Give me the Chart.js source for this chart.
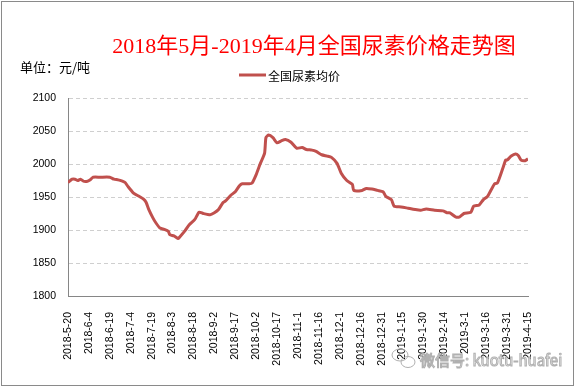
<!DOCTYPE html>
<html>
<head>
<meta charset="utf-8">
<script src="https://cdn.jsdelivr.net/npm/chart.js@4/dist/chart.umd.min.js"></script>
<style>
  html, body { margin: 0; padding: 0; background: #fff; }
  #wrap { width: 576px; height: 387px; }
</style>
</head>
<body>
<div id="wrap"><canvas id="myChart" width="576" height="387"></canvas></div>
<script>
// days counted from 2018-5-20
const days = [0, 3, 5, 7, 9, 11, 14, 16, 18, 23, 30, 33, 36, 39, 41, 43, 47, 51, 54, 56, 58, 61, 63, 66, 69, 72, 73, 76, 79, 80,
    84, 87, 91, 94, 97, 102, 105, 108, 111, 113, 117, 120, 123, 125, 130, 132, 135, 138, 141, 142, 144, 147, 150, 153, 156,
    160, 164, 168, 171, 175, 178, 182, 186, 189, 193, 196, 200, 204, 205, 211, 214, 218, 222, 226, 228, 232, 234, 239, 244,
    249, 253, 257, 263, 269, 272, 274, 278, 281, 284, 289, 291, 295, 298, 301, 306, 308, 312, 314, 315, 318, 321, 323, 325, 328, 330];
const prices = [1972, 1977, 1977, 1975, 1977, 1974, 1974, 1976, 1980, 1980, 1980, 1977, 1976, 1974, 1972, 1966, 1956, 1951, 1947, 1942, 1931, 1918, 1911, 1903, 1901, 1898, 1893, 1891, 1887, 1889,
    1899, 1908, 1916, 1927, 1925, 1923, 1926, 1931, 1941, 1944, 1953, 1958, 1967, 1970, 1970, 1971, 1984, 2001, 2016, 2040, 2044, 2040, 2032, 2035, 2037,
    2033, 2024, 2025, 2022, 2021, 2019, 2014, 2012, 2010, 2001, 1986, 1975, 1969, 1960, 1960, 1963, 1962, 1960, 1958, 1951, 1946, 1936, 1935, 1933,
    1931, 1930, 1932, 1930, 1929, 1926, 1926, 1920, 1920, 1925, 1927, 1936, 1938, 1946, 1951, 1970, 1971, 1994, 2006, 2006, 2012, 2015, 2013, 2006, 2005, 2008];
const tickLabels = ["2018-5-20", "2018-6-4", "2018-6-19", "2018-7-4", "2018-7-19", "2018-8-3", "2018-8-18", "2018-9-2",
    "2018-9-17", "2018-10-2", "2018-10-17", "2018-11-1", "2018-11-16", "2018-12-1", "2018-12-16", "2018-12-31",
    "2019-1-15", "2019-1-30", "2019-2-14", "2019-3-1", "2019-3-16", "2019-3-31", "2019-4-15"];
const seriesName = "全国尿素均价";
const titleText = "2018年5月-2019年4月全国尿素价格走势图";
const unitText = "单位：元/吨";

const lineColor = "#C0504D";

// title, unit, legend, border and watermark drawn by hand
const decor = {
    id: "decor",
    afterDraw(chart) {
        const ctx = chart.ctx;
        ctx.save();
        ctx.strokeStyle = "#8a8a8a";
        ctx.lineWidth = 1;
        ctx.strokeRect(1.5, 1.5, 572, 384);

        ctx.fillStyle = "#FF0000";
        ctx.font = "22px 'Liberation Serif', 'Noto Sans CJK SC'";
        ctx.textAlign = "center";
        ctx.textBaseline = "middle";
        ctx.fillText(titleText, 314, 47);

        ctx.fillStyle = "#000";
        ctx.font = "13px 'Noto Sans CJK SC'";
        ctx.textAlign = "left";
        ctx.fillText(unitText, 20, 67);

        ctx.strokeStyle = lineColor;
        ctx.lineWidth = 3;
        ctx.beginPath();
        ctx.moveTo(239, 75);
        ctx.lineTo(266, 75);
        ctx.stroke();
        ctx.font = "12px 'Noto Sans CJK SC'";
        ctx.fillText(seriesName, 268, 76);

        // watermark
        ctx.strokeStyle = "#b0b0b0";
        ctx.lineWidth = 1;
        ctx.beginPath();
        ctx.ellipse(400, 355, 8, 6, 0, 0, Math.PI * 2);
        ctx.stroke();
        ctx.beginPath();
        ctx.ellipse(408, 362, 7, 5.5, 0, 0, Math.PI * 2);
        ctx.stroke();
        ctx.font = "15px 'Noto Sans CJK SC'";
        ctx.fillStyle = "rgba(255,255,255,0.85)";
        ctx.fillText("微信号: kuotu-huafei", 420, 360);
        ctx.strokeText("微信号: kuotu-huafei", 420, 360);
        ctx.restore();
    }
};

new Chart("myChart", {
    type: "line",
    data: {
        datasets: [
            {
                label: seriesName,
                data: days.map((d, i) => ({ x: d, y: prices[i] })),
                borderColor: lineColor,
                borderWidth: 3,
                pointRadius: 0,
                fill: false,
                tension: 0.2,
            },
        ],
    },
    options: {
        responsive: false,
        animation: false,
        layout: { padding: { top: 98, right: 48, bottom: 0, left: 0 } },
        plugins: {
            legend: { display: false },
            title: { display: false },
            tooltip: { enabled: false },
        },
        scales: {
            x: {
                type: "linear",
                min: 0,
                max: 330,
                afterFit(scale) { scale.height = 91; },
                afterBuildTicks(scale) {
                    scale.ticks = tickLabels.map((_, i) => ({ value: i * 15 }));
                },
                grid: { display: false, drawTicks: false },
                border: { display: true, color: "#868686", width: 1 },
                ticks: {
                    autoSkip: false,
                    maxRotation: 90,
                    minRotation: 90,
                    padding: 16,
                    color: "#000",
                    font: { family: "'Liberation Sans'", size: 10.5 },
                    callback: (v) => tickLabels[Math.round(v / 15)],
                },
            },
            y: {
                min: 1800,
                max: 2100,
                afterFit(scale) { scale.width = 68; },
                grid: { color: "#cfcfcf", drawTicks: false },
                border: { display: true, color: "#868686", width: 1, dash: [4, 3] },
                ticks: {
                    stepSize: 50,
                    padding: 12,
                    color: "#000",
                    font: { family: "'Liberation Sans'", size: 10.5 },
                    callback: (v) => String(v),
                },
            },
        },
    },
    plugins: [decor],
});
</script>
</body>
</html>
